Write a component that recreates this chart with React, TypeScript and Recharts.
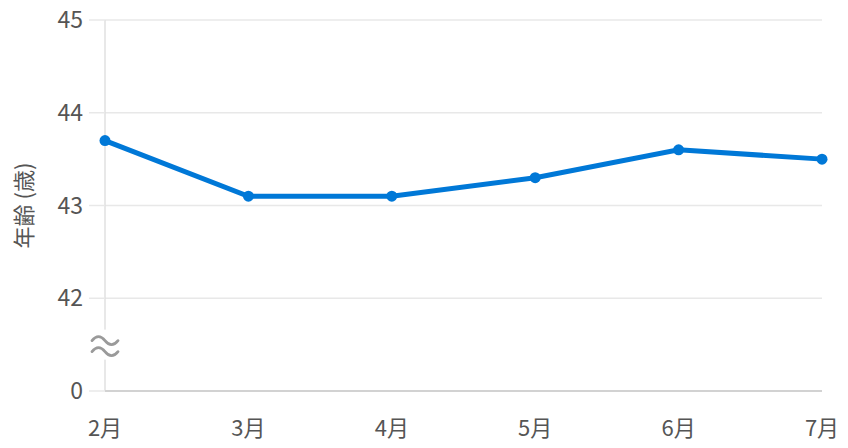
import React from 'react';
import {
  LineChart,
  Line,
  XAxis,
  YAxis,
  CartesianGrid,
  ReferenceLine,
  ReferenceDot,
} from 'recharts';

const months = ['2月', '3月', '4月', '5月', '6月', '7月'];
const ages = [43.7, 43.1, 43.1, 43.3, 43.6, 43.5];
const yTickValues = [41, 42, 43, 44, 45];
const yTickLabels = ['0', '42', '43', '44', '45'];
const yAxisTitle = '年齢 (歳)';

const data = months.map((m, i) => ({ month: m, value: ages[i] }));

const FONT = '"Noto Sans CJK JP", "Noto Sans", sans-serif';
const TEXT = '#555555';
const BLUE = '#0078d7';

const BreakMark = (props: any) => {
  const { cx, cy } = props;
  return (
    <g>
      <rect x={cx - 16} y={cy - 15} width={32} height={30} fill="#ffffff" />
      <path
        d={`M ${cx - 13} ${cy - 4} q 6.5 -8 13 0 t 13 0`}
        fill="none"
        stroke="#9a9a9a"
        strokeWidth={2.8}
        strokeLinecap="round"
      />
      <path
        d={`M ${cx - 13} ${cy + 7} q 6.5 -8 13 0 t 13 0`}
        fill="none"
        stroke="#9a9a9a"
        strokeWidth={2.8}
        strokeLinecap="round"
      />
    </g>
  );
};

const YTitle = (props: any) => {
  const { viewBox } = props;
  const x = 22;
  const y = viewBox.y + viewBox.height / 2;
  return (
    <text
      x={x}
      y={y}
      transform={`rotate(-90 ${x} ${y})`}
      textAnchor="middle"
      dominantBaseline="central"
      fill={TEXT}
      fontSize={22}
      fontFamily={FONT}
    >
      {yAxisTitle}
    </text>
  );
};

export default function App() {
  return (
    <div style={{ position: 'absolute', left: 0, top: 0, fontFamily: FONT }}>
      <LineChart
        width={848}
        height={448}
        data={data}
        margin={{ top: 20, right: 26, bottom: 0, left: 0 }}
      >
        <CartesianGrid vertical={false} stroke="#e8e8e8" strokeWidth={1.5} />
        <XAxis
          dataKey="month"
          height={57}
          axisLine={{ stroke: '#d2d2d2', strokeWidth: 2 }}
          tickLine={false}
          tickSize={6}
          tickMargin={23}
          tick={{ fill: TEXT, fontSize: 22, fontFamily: FONT }}
          interval={0}
        />
        <YAxis
          type="number"
          domain={[41, 45]}
          ticks={yTickValues}
          width={105}
          axisLine={false}
          tickLine={{ stroke: '#e8e8e8', strokeWidth: 1.5 }}
          tickSize={16}
          tickMargin={6}
          tick={{ fill: TEXT, fontSize: 23, fontFamily: FONT }}
          tickFormatter={(v: number) => yTickLabels[yTickValues.indexOf(v)]}
          label={<YTitle />}
        />
        <ReferenceLine
          segment={[
            { x: months[0], y: 41 },
            { x: months[0], y: 45 },
          ]}
          stroke="#e0e0e0"
          strokeWidth={1.5}
        />
        <ReferenceDot
          x={months[0]}
          y={41.5}
          r={0}
          shape={<BreakMark />}
        />
        <Line
          type="linear"
          dataKey="value"
          stroke={BLUE}
          strokeWidth={5}
          dot={{ r: 5.5, fill: BLUE, stroke: 'none' }}
          activeDot={false}
          isAnimationActive={false}
        />
      </LineChart>
    </div>
  );
}
